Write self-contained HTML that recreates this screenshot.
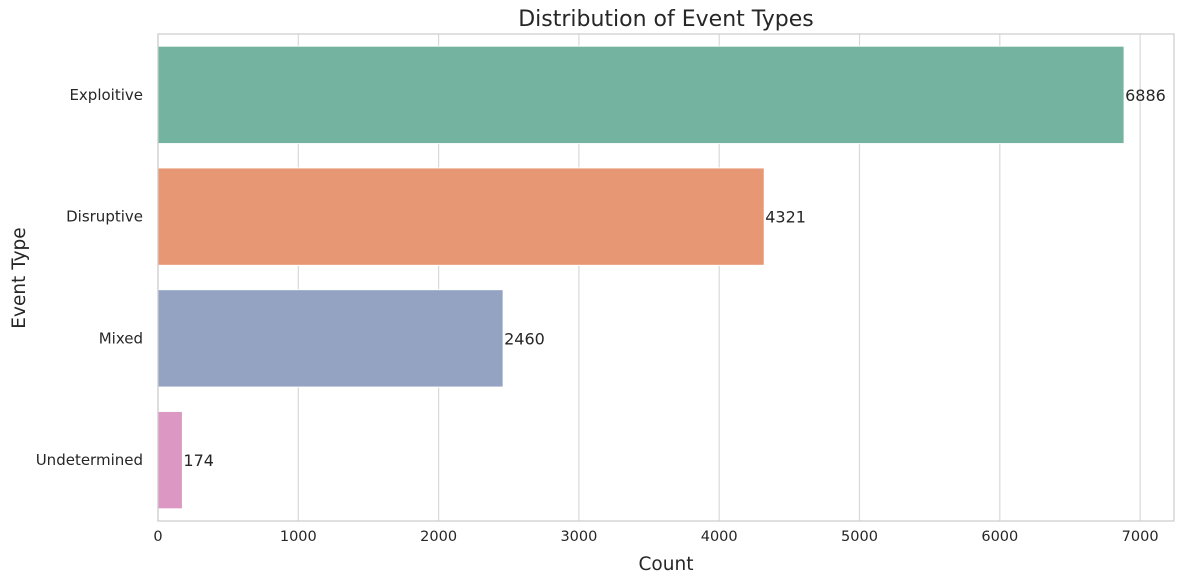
<!DOCTYPE html>
<html><head><meta charset="utf-8"><style>
body{margin:0;background:#fff;}
svg{display:block;font-family:"DejaVu Sans","Liberation Sans",sans-serif;}
</style></head><body>
<svg id="chart" width="1184" height="584">
<g id="grid"></g>
<g id="bars"></g>
<rect x="158" y="34" width="1016" height="487" fill="none" stroke="#cccccc" stroke-width="1.2"/>
<g id="xticks"></g>
<g id="yticks"></g>
<text x="666" y="26" text-anchor="middle" font-size="22" fill="#262626">Distribution of Event Types</text>
<text x="666" y="570" text-anchor="middle" font-size="18.5" fill="#262626">Count</text>
<text transform="translate(25,278) rotate(-90)" text-anchor="middle" font-size="18.5" fill="#262626">Event Type</text>
</svg>
<script>
const categories=["Exploitive","Disruptive","Mixed","Undetermined"];
const counts=[6886,4321,2460,174];
const colors=["#73b3a0","#e89775","#94a3c2","#dc98c2"];
const xTicks=[0,1000,2000,3000,4000,5000,6000,7000];
const L=158,T=34,B=521,pxPer=140.3/1000;
const band=(B-T)/categories.length;
const xs=v=>L+v*pxPer;
const NS="http://www.w3.org/2000/svg";
function mk(tag,attrs,parent){const e=document.createElementNS(NS,tag);for(const k in attrs)e.setAttribute(k,attrs[k]);parent.appendChild(e);return e;}
const grid=document.getElementById('grid'),bars=document.getElementById('bars'),xt=document.getElementById('xticks'),yt=document.getElementById('yticks');
xTicks.forEach(v=>{
 const l=mk('line',{x1:xs(v),x2:xs(v),y1:T,y2:B,stroke:'#d9d9d9','stroke-width':1.2},grid);
 
 
 const t=mk('text',{x:xs(v),y:B+20,'text-anchor':'middle','font-size':14.5,fill:'#262626'},xt);
 t.textContent=v;
 
 
});
categories.forEach((c,i)=>{
 const cy=T+band*(i+0.5),h=band*0.8;
 const r=mk('rect',{x:xs(0),y:cy-h/2,width:xs(counts[i])-xs(0),height:h,fill:colors[i],stroke:'#fff','stroke-width':1},bars);
 
 
 const v=mk('text',{x:xs(counts[i])+1,y:cy+6,'font-size':16,fill:'#262626'},bars);
 v.textContent=counts[i];
 
 
 const t=mk('text',{x:L-15,y:cy+5,'text-anchor':'end','font-size':15,fill:'#262626'},yt);
 t.textContent=c;
 
 
});
</script>
</body></html>
